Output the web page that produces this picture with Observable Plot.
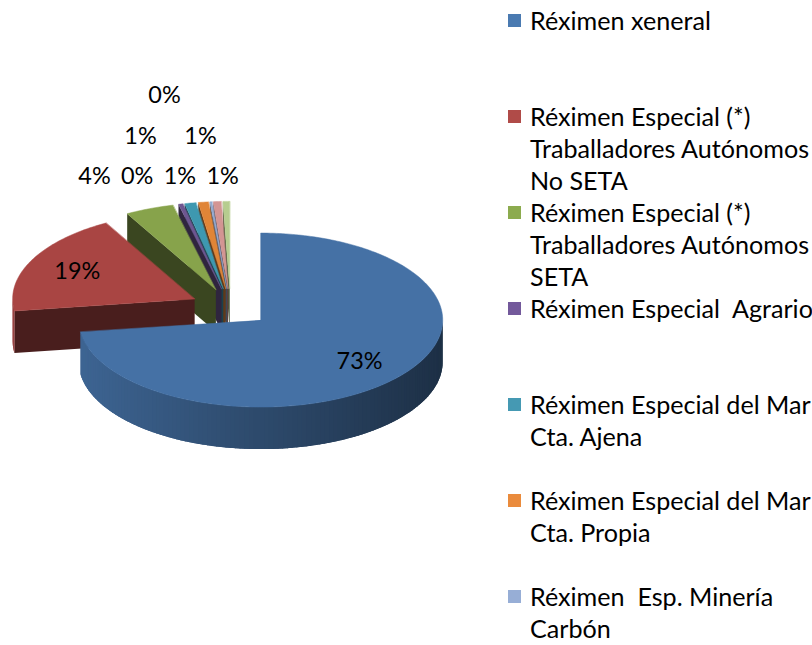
<!DOCTYPE html>
<html><head><meta charset="utf-8">
<script src="https://cdn.jsdelivr.net/npm/d3@7"></script>
<script src="https://cdn.jsdelivr.net/npm/@observablehq/plot@0.6"></script>
<style>
html,body{margin:0;padding:0;background:#fff;overflow:hidden;width:812px;height:645px}
#wrap{position:relative;width:812px;height:645px;overflow:hidden}
#chart{position:absolute;left:0;top:0}
.lg-mark{position:absolute;width:13px;height:13px}
.lg-text{position:absolute;white-space:pre;color:#000;font-family:Lato,"Open Sans",sans-serif}
</style></head><body><div id="wrap"><div id="chart"></div></div>
<script>
// ---- data ----
const categories = [
  "Réximen xeneral",
  "Réximen Especial (*) Traballadores Autónomos No SETA",
  "Réximen Especial (*) Traballadores Autónomos SETA",
  "Réximen Especial  Agrario",
  "Réximen Especial del Mar Cta. Ajena",
  "Réximen Especial del Mar Cta. Propia",
  "Réximen  Esp. Minería Carbón",
  "Réximen Especial Empregados de Fogar",
  "Outros"
];
const shares = [72.8, 19.1, 4.3, 0.4, 1.0, 0.9, 0.2, 0.7, 0.6];
const pieColors = ["#4571a5", "#a94543", "#87a34b", "#6e5690", "#3e98b0", "#e08537", "#93a9cf", "#d39593", "#b6cd8f"];
const legendColors = ["#4a7ab1", "#b04b48", "#8cab4e", "#73599b", "#4599b3", "#ea8b3c", "#97aed6", "#d99694", "#c3d69b"];

// ---- layout / style ----
const W = 500, H = 645, PX = 182, CX = 230, CY = 307;
const TILT = 0.478, DEPTH = 0.231, EXPLODE = 0.22, INSIDE = 0.72;
const FONT = 'Lato, "Open Sans", sans-serif';
// outside-label slots (row, column) for the small slices, in slice order from index 2
const smallSlots = [[0,0],[0,1],[1,0],[0,2],[2,0],[1,1],[0,3]];
const rowBase = 176, rowGap = 40.5, rowStart = [94, 140, 164], colGap = [42.7, 60, 0];

const ux = px => (px - CX) / PX, uy = py => (CY - py) / PX;

const cv = document.createElement("canvas").getContext("2d");
function measure(t, size) { cv.font = `${size}px ${FONT}`; return cv.measureText(t).width; }
const fsLegend = Math.max(16, Math.min(28, 100 * 280 / measure("Traballadores Autónomos", 100)));
const fsPie = Math.max(16, Math.min(28, 100 * 46 / measure("73%", 100)));

const shade = (c, k) => { const r = d3.rgb(c); return d3.rgb(r.r * k, r.g * k, r.b * k).formatHex(); };

// ---- geometry ----
const total = d3.sum(shares);
let acc = 0;
const slices = shares.map((v, i) => {
  const a0 = acc / total * 2 * Math.PI; acc += v;
  const a1 = acc / total * 2 * Math.PI;
  const am = (a0 + a1) / 2;
  return {i, v, a0, a1, am, ox: EXPLODE * Math.sin(am), oy: EXPLODE * TILT * Math.cos(am)};
});
const P = (s, a, r = 1, dz = 0) => ({x: s.ox + r * Math.sin(a), y: s.oy + r * TILT * Math.cos(a) - dz});

const walls = [];
const tops = [];
slices.forEach(s => {
  const col = pieColors[s.i];
  // top face
  const n = Math.max(2, Math.ceil((s.a1 - s.a0) / (Math.PI / 180)));
  const tp = [P(s, 0, 0)];
  for (let j = 0; j <= n; j++) tp.push(P(s, s.a0 + (s.a1 - s.a0) * j / n));
  tops.push({id: "t" + s.i, fill: col, pts: tp});
  // outer wall (front half only), small overlapping strips for a smooth shading
  const b0 = Math.max(s.a0, Math.PI / 2), b1 = Math.min(s.a1, 3 * Math.PI / 2);
  if (b1 > b0) {
    const m = Math.max(1, Math.ceil((b1 - b0) / (1.5 * Math.PI / 180)));
    const st = (b1 - b0) / m;
    for (let j = 0; j < m; j++) {
      const a = Math.max(b0, b0 + st * (j - 0.6)), b = Math.min(b1, b0 + st * (j + 1.6)), mid = b0 + st * (j + 0.5);
      const t = (1 - Math.sin(mid)) / 2;
      walls.push({id: `o${s.i}_${j}`, fill: shade(col, 0.42 + 0.47 * t),
        key: P(s, mid).y, pts: [P(s, a), P(s, b), P(s, b, 1, DEPTH), P(s, a, 1, DEPTH)]});
    }
  }
  // cut faces
  const face = (a, tag) => walls.push({id: tag + s.i, fill: shade(col, 0.43), key: P(s, a, 0.5).y,
    pts: [P(s, 0, 0), P(s, a), P(s, a, 1, DEPTH), P(s, 0, 0, DEPTH)]});
  if (Math.sin(s.a0) < -1e-6) face(s.a0, "s");
  if (Math.sin(s.a1) > 1e-6) face(s.a1, "e");
});
walls.sort((p, q) => q.key - p.key);
const flat = arr => arr.flatMap(p => p.pts.map(pt => ({id: p.id, fill: p.fill, x: pt.x, y: pt.y})));
const wallPts = flat(walls), topPts = flat(tops);

const fmt = d3.format(".0%");
const labelData = slices.map(s => {
  const text = fmt(s.v / total);
  if (s.i < 2) { const p = P(s, s.am, INSIDE); return {x: p.x, y: p.y, text}; }
  const [r, c] = smallSlots[s.i - 2];
  return {x: ux(rowStart[r] + c * colGap[r]), y: uy(rowBase - r * rowGap), text};
});

const chart = Plot.plot({
  width: W, height: H, margin: 0,
  style: {background: "transparent", fontFamily: FONT},
  x: {domain: [ux(0), ux(W)], range: [0, W], axis: null},
  y: {domain: [uy(H), uy(0)], range: [H, 0], axis: null},
  color: {type: "identity"},
  marks: [
    Plot.line(wallPts, {x: "x", y: "y", z: "id", fill: "fill", stroke: "none", curve: "linear-closed"}),
    Plot.line(topPts, {x: "x", y: "y", z: "id", fill: "fill", stroke: "fill", strokeWidth: 0.5, curve: "linear-closed"}),
    Plot.text(labelData, {x: "x", y: "y", text: "text", fontSize: fsPie, fontFamily: FONT, fill: "#000"})
  ]
});
document.getElementById("chart").appendChild(chart);

// ---- legend (entries starting below the frame are clipped, as in the original) ----
const wrap = document.getElementById("wrap");
function wrapText(t) {
  const words = t.split(" ");
  const lines = []; let line = "";
  for (const w of words) {
    const cand = line === "" ? w : line + " " + w;
    if (line !== "" && w !== "" && measure(cand, fsLegend) > 300) { lines.push(line); line = w; }
    else line = cand;
  }
  lines.push(line);
  return lines;
}
const LINE = 32;
categories.forEach((c, k) => {
  const cy = 20 + 96 * k;
  if (cy - 16 > 645) return;
  const lines = wrapText(c);
  const m = document.createElement("div");
  m.className = "lg-mark";
  m.style.left = "508px"; m.style.top = (cy - 6.5) + "px"; m.style.background = legendColors[k];
  wrap.appendChild(m);
  const t = document.createElement("div");
  t.className = "lg-text";
  t.style.left = "530px"; t.style.top = (cy - 16) + "px";
  t.style.fontSize = fsLegend + "px"; t.style.lineHeight = LINE + "px";
  t.textContent = lines.join("\n");
  wrap.appendChild(t);
});
</script></body></html>
